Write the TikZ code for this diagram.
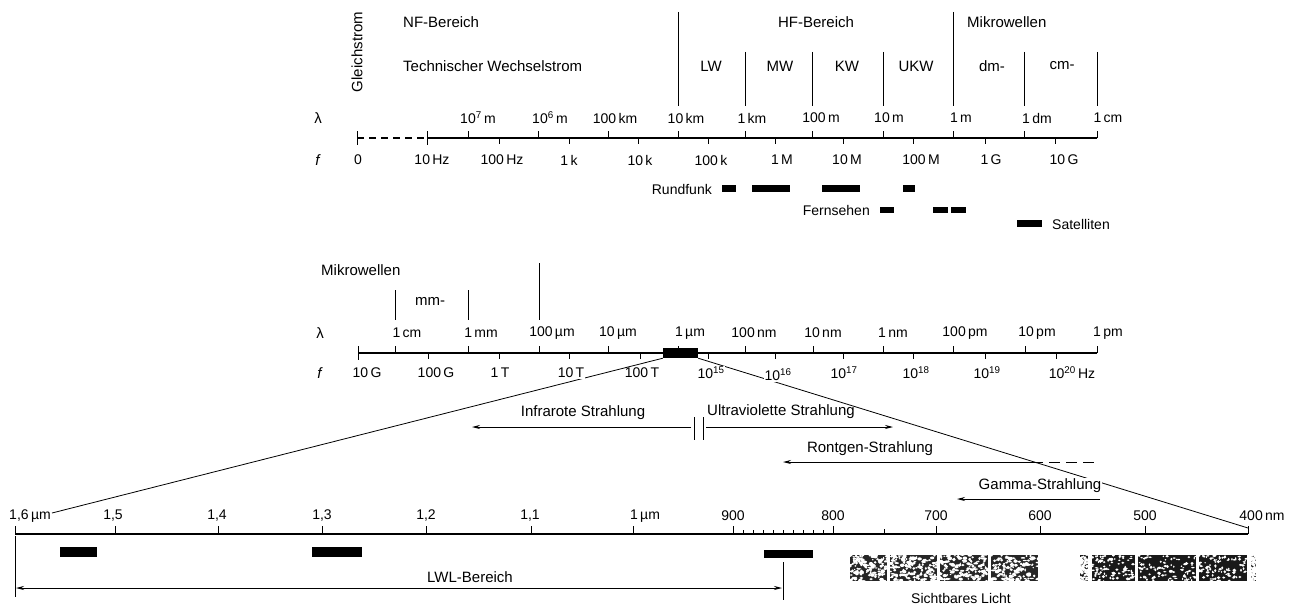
\documentclass[tikz,border=0pt]{standalone}
\usepackage{fontspec}
\setmainfont{Liberation Sans}
\usetikzlibrary{arrows.meta}
\begin{document}
\begin{tikzpicture}[x=1pt,y=-1pt,
  ax/.style={line width=1.1pt},
  tk/.style={line width=1pt},
  thinln/.style={line width=0.8pt},
  lbl/.style={font=\fontsize{14}{16}\selectfont, inner sep=1pt},
  txt/.style={font=\fontsize{15}{17}\selectfont, inner sep=1pt},
  wlbl/.style={lbl, fill=white},
  wtxt/.style={txt, fill=white},
  barbox/.style={fill=black, draw=none},
  arr/.style={line width=0.9pt, -{Stealth[length=8pt,width=4pt]}},
  darr/.style={line width=0.9pt, {Stealth[length=8pt,width=4pt]}-{Stealth[length=8pt,width=4pt]}},
]
\useasboundingbox (0,0) rectangle (1297,607);

% ================= TOP SECTION =================
\node[txt, rotate=90] (gleich) at (357,52) {Gleichstrom};
\node[txt, anchor=west] (nf) at (402,22) {NF-Bereich};
\node[txt, anchor=west] (tws) at (402,66) {Technischer Wechselstrom};
\node[txt] (hf) at (816,22) {HF-Bereich};
\node[txt, anchor=west] (mwtop) at (966,22) {Mikrowellen};
\node[txt] (lw) at (711,66) {LW};
\node[txt] (mw) at (780,66) {MW};
\node[txt] (kw) at (847,66) {KW};
\node[txt] (ukw) at (916,66) {UKW};
\node[txt] (dm) at (992,66) {dm-};
\node[txt] (cmb) at (1062,66) {cm-};

\draw[tk] (678,12) -- (678,106);
\draw[tk] (953,12) -- (953,106);
\foreach \x in {745,812,883,1024,1097} \draw[tk] (\x,52) -- (\x,106);

% axis
\draw[ax, dash pattern=on 7pt off 5pt] (357,138) -- (427,138);
\draw[ax] (427,138) -- (1097,138);
\draw[tk] (357,131) -- (357,145);
\draw[tk] (427,131) -- (427,145);
\foreach \x in {468,538,608,678,745,812,883,953,1024,1097} \draw[tk] (\x,138) -- (\x,131);
\foreach \x in {499,569,638,708,775,843,913,985,1055} \draw[tk] (\x,138) -- (\x,144);

\node[txt] (lamA) at (318,118) {λ};
\node[txt] (fA) at (318,160) {\textit{f}};

\node[lbl] (l1) at (478,118) {10\textsuperscript{7}\,m};
\node[lbl] (l2) at (550,118) {10\textsuperscript{6}\,m};
\node[lbl] (l3) at (615,118) {100\,km};
\node[lbl] (l4) at (686,118) {10\,km};
\node[lbl] (l5) at (752,118) {1\,km};
\node[lbl] (l6) at (821,118) {100\,m};
\node[lbl] (l7) at (889,118) {10\,m};
\node[lbl] (l8) at (961,118) {1\,m};
\node[lbl] (l9) at (1037,118) {1\,dm};
\node[lbl] (l10) at (1108,118) {1\,cm};

\node[lbl] (f0) at (358,160) {0};
\node[lbl] (f1) at (432,160) {10\,Hz};
\node[lbl] (f2) at (502,160) {100\,Hz};
\node[lbl] (f3) at (569,160) {1\,k};
\node[lbl] (f4) at (640,160) {10\,k};
\node[lbl] (f5) at (711,160) {100\,k};
\node[lbl] (f6) at (782,160) {1\,M};
\node[lbl] (f7) at (847,160) {10\,M};
\node[lbl] (f8) at (921,160) {100\,M};
\node[lbl] (f9) at (991,160) {1\,G};
\node[lbl] (f10) at (1064,160) {10\,G};

% Rundfunk / Fernsehen / Satelliten
\node[lbl, anchor=east] (rund) at (713,189) {Rundfunk};
\fill[barbox] (722,185) rectangle (736,192);
\fill[barbox] (752,185) rectangle (790,192);
\fill[barbox] (822,185) rectangle (860,192);
\fill[barbox] (903,185) rectangle (915,192);
\node[lbl, anchor=east] (fern) at (871,210) {Fernsehen};
\fill[barbox] (880,207) rectangle (894,213);
\fill[barbox] (933,207) rectangle (948,213);
\fill[barbox] (951,207) rectangle (966,213);
\fill[barbox] (1017,220) rectangle (1042,227);
\node[lbl, anchor=west] (sat) at (1051,224) {Satelliten};

% ================= MIDDLE SECTION =================
\node[txt, anchor=west] (mwmid) at (320,270) {Mikrowellen};
\node[txt] (mmb) at (430,301) {mm-};
\draw[tk] (395,290) -- (395,320);
\draw[tk] (468,290) -- (468,320);
\draw[tk] (539,263) -- (539,320);

\node[txt] (lamB) at (320,333) {λ};
\node[txt] (fB) at (320,373) {\textit{f}};

% zoom lines (drawn before the labels that mask them)
\node[barbox, minimum width=35pt, minimum height=10pt, inner sep=0pt] (irbar) at (680.5,353) {};
\coordinate (zl) at (52,513);
\coordinate (zr) at (1248,528);
\draw[thinln] (irbar.south west) -- (zl);
\draw[thinln] (irbar.south east) -- (zr);

\draw[ax] (358,353) -- (663,353);
\draw[ax] (698,353) -- (1097,353);
\node[barbox, minimum width=35pt, minimum height=10pt, inner sep=0pt] at (irbar) {};
\draw[tk] (358,346) -- (358,360);
\foreach \x in {395,468,539,608,678,745,813,883,953,1025,1097} \draw[tk] (\x,353) -- (\x,346);
\foreach \x in {428,499,569,640,708,775,843,913,985,1056} \draw[tk] (\x,353) -- (\x,359);

\node[lbl] (m1) at (407,333) {1\,cm};
\node[lbl] (m2) at (481,333) {1\,mm};
\node[lbl] (m3) at (552,333) {100\,µm};
\node[lbl] (m4) at (618,333) {10\,µm};
\node[lbl] (m5) at (690,333) {1\,µm};
\node[lbl] (m6) at (754,333) {100\,nm};
\node[lbl] (m7) at (823,333) {10\,nm};
\node[lbl] (m8) at (893,333) {1\,nm};
\node[lbl] (m9) at (965,333) {100\,pm};
\node[lbl] (m10) at (1037,333) {10\,pm};
\node[lbl] (m11) at (1108,333) {1\,pm};

\node[lbl] (g1) at (367,373) {10\,G};
\node[lbl] (g2) at (436,373) {100\,G};
\node[lbl] (g3) at (500,373) {1\,T};
\node[wlbl] (g4) at (571,373) {10\,T};
\node[lbl] (g5) at (642,373) {100\,T};
\node[wlbl] (g6) at (711,373) {10\textsuperscript{15}};
\node[wlbl] (g7) at (778,375) {10\textsuperscript{16}};
\node[lbl] (g8) at (844,373) {10\textsuperscript{17}};
\node[lbl] (g9) at (916,373) {10\textsuperscript{18}};
\node[lbl] (g10) at (987,373) {10\textsuperscript{19}};
\node[lbl] (g11) at (1072,373) {10\textsuperscript{20}\,Hz};

% radiation arrows
\node[txt] (irl) at (583,413) {Infrarote Strahlung};
\coordinate (irR) at (691,427);
\coordinate (irL) at (472,427);
\draw[arr] (irR) -- (irL);
\draw[tk] (694,417) -- (694,440);
\draw[tk] (703,417) -- (703,440);
\node[txt] (uvl) at (781,412) {Ultraviolette Strahlung};
\coordinate (uvL) at (706,427);
\coordinate (uvR) at (893,427);
\draw[arr] (uvL) -- (uvR);

\node[txt] (rol) at (870,449) {Rontgen-Strahlung};
\coordinate (roM) at (1032,462);
\coordinate (roL) at (783,462);
\coordinate (roR) at (1100,462);
\draw[arr] (roM) -- (roL);
\draw[line width=0.9pt, dash pattern=on 11pt off 6pt] (roM) -- (roR);

\node[wtxt] (gal) at (1040,486) {Gamma-Strahlung};
\coordinate (gaR) at (1100,499);
\coordinate (gaL) at (957,499);
\draw[arr] (gaR) -- (gaL);

% ================= BOTTOM SECTION =================
\draw[ax] (15,534) -- (1248,534);
\foreach \x in {15,115,218,322,426,531,633,733,833,936,1040,1145,1248} \draw[tk] (\x,534) -- (\x,526);
\foreach \x in {743,753,...,823} \draw[line width=0.7pt] (\x,534) -- (\x,530);
\draw[line width=0.8pt] (884,534) -- (884,529);

\node[lbl] (b1) at (30,516) {1,6\,µm};
\node[lbl] (b2) at (113,516) {1,5};
\node[lbl] (b3) at (217,516) {1,4};
\node[lbl] (b4) at (322,516) {1,3};
\node[lbl] (b5) at (426,516) {1,2};
\node[lbl] (b6) at (530,516) {1,1};
\node[lbl] (b7) at (645,516) {1\,µm};
\node[lbl] (b8) at (733,516) {900};
\node[lbl] (b9) at (833,516) {800};
\node[lbl] (b10) at (936,516) {700};
\node[lbl] (b11) at (1040,516) {600};
\node[lbl] (b12) at (1145,516) {500};
\node[lbl] (b13) at (1262,516) {400\,nm};

\fill[barbox] (60,547) rectangle (97,557);
\fill[barbox] (312,547) rectangle (362,557);
\fill[barbox] (764,550) rectangle (813,558);

\coordinate (lwlA) at (15,536);
\coordinate (lwlB) at (15,597);
\coordinate (lwlC) at (783,562);
\coordinate (lwlD) at (783,600);
\draw[tk] (lwlA) -- (lwlB);
\draw[tk] (lwlC) -- (lwlD);
\coordinate (lwlL) at (16,588);
\coordinate (lwlR) at (782,588);
\draw[darr] (lwlL) -- (lwlR);
\node[txt] (lwl) at (470,577) {LWL-Bereich};

% visible light blocks (speckled)
\pgfmathsetseed{11}
\foreach \a/\b in {850/887, 890/937, 940/988, 991/1038} {
  \begin{scope}
    \clip (\a,555) rectangle (\b,581);
    \fill[black!85] (\a,555) rectangle (\b,581);
    \foreach \i in {1,...,150} \fill[white] ({\a+rnd*(\b-\a)},{555+rnd*26}) ellipse ({0.8+1.6*rnd} and {0.6+1.2*rnd});
  \end{scope}
}
\foreach \a/\b in {1080/1088, 1092/1135, 1138/1196, 1199/1247, 1251/1256} {
  \begin{scope}
    \clip (\a,555) rectangle (\b,581);
    \fill[black!90] (\a,555) rectangle (\b,581);
    \foreach \i in {1,...,95} \fill[white] ({\a+rnd*(\b-\a)},{555+rnd*26}) ellipse ({0.7+1.4*rnd} and {0.6+1.0*rnd});
  \end{scope}
}
\node[lbl] (sicht) at (961,598) {Sichtbares Licht};

\end{tikzpicture}
\end{document}
